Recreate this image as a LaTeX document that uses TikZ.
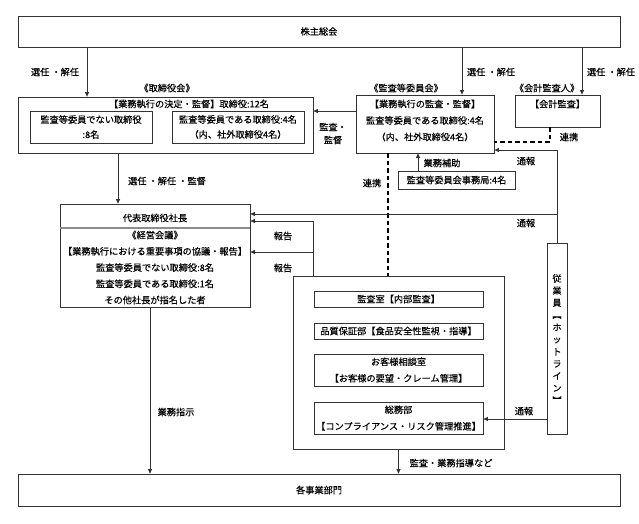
\documentclass[tikz,border=0pt]{standalone}
\usepackage{fontspec}
\setmainfont{Noto Sans CJK JP}[FakeBold=0.35]
\usetikzlibrary{arrows.meta}
\begin{document}
\begin{tikzpicture}[x=1pt,y=-1pt,
  every node/.style={font=\fontsize{9.2}{15}\selectfont, inner sep=0pt, text=black},
  box/.style={draw=black!80, line width=0.75pt, rectangle},
  ln/.style={draw=black!80, line width=0.75pt},
  arr/.style={ln, -{Triangle[length=4.5pt,width=4pt]}},
  dsh/.style={draw=black, line width=1.2pt, dash pattern=on 4.5pt off 3pt},
  lbl/.style={align=center, font=\fontsize{9.2}{13}\selectfont}]
\useasboundingbox (0,0) rectangle (639,523);

% top
\node[box, minimum width=602pt, minimum height=31pt] (soukai) at (319,31.5) {株主総会};

% board
\node[box, minimum width=295pt, minimum height=56pt] (torishimari) at (165.5,125) {};
\node (tlab) at (167,88) {《取締役会》};
\node (ttitle) at (189,104) {【業務執行の決定・監督】取締役:12名};
\node[box, minimum width=122pt, minimum height=32pt, align=center] (tleft) at (91,127) {監査等委員でない取締役\\:8名};
\node[box, minimum width=132pt, minimum height=32pt, align=center] (tright) at (238,127) {監査等委員である取締役:4名\\（内、社外取締役4名）};

% audit committee
\node[box, minimum width=138pt, minimum height=58pt] (kansa) at (425,124) {};
\node (klab) at (406,88) {《監査等委員会》};
\node[align=center, font=\fontsize{9.2}{16.5}\selectfont] (ktext) at (425,120.5) {【業務執行の監査・監督】\\監査等委員である取締役:4名\\（内、社外取締役4名）};

% accounting auditor
\node[box, minimum width=85pt, minimum height=32pt] (kaikei) at (557.5,111) {};
\node (kalab) at (547,88) {《会計監査人》};
\node (katext) at (557.5,104) {【会計監査】};

% secretariat
\node[box, minimum width=117pt, minimum height=18pt] (jimu) at (456.5,180) {監査等委員会事務局:4名};

% president
\node[box, minimum width=190pt, minimum height=103pt] (shacho) at (155,255.5) {};
\node (stitle) at (155,218) {代表取締役社長};
\node[align=center, font=\fontsize{9.2}{16.25}\selectfont] (stext) at (155,267.5) {《経営会議》\\【業務執行における重要事項の協議・報告】\\監査等委員でない取締役:8名\\監査等委員である取締役:1名\\その他社長が指名した者};
\coordinate (divy) at (0,228);
\draw[black!45, line width=1.6pt] (shacho.west |- divy) -- (shacho.east |- divy);

% internal group
\node[box, minimum width=211pt, minimum height=173pt] (group) at (398.5,362.5) {};
\node[box, minimum width=169pt, minimum height=16pt] (naibu) at (398.5,299) {監査室【内部監査】};
\node[box, minimum width=169pt, minimum height=16pt] (hinshitsu) at (398.5,331) {品質保証部【食品安全性監視・指導】};
\node[box, minimum width=169pt, minimum height=32pt, align=center, font=\fontsize{9.2}{16.5}\selectfont] (okyaku) at (398.5,370) {お客様相談室\\【お客様の要望・クレーム管理】};
\node[box, minimum width=169pt, minimum height=32pt, align=center, font=\fontsize{9.2}{16.5}\selectfont] (somu) at (398.5,418) {総務部\\【コンプライアンス・リスク管理推進】};

% employees
\node[box, minimum width=20pt, minimum height=191pt] (jugyo) at (557,338.5) {};
\node[align=center, font=\fontsize{9}{12.2}\selectfont] (jtext) at (557,339) {従\\業\\員\\︻\\ホ\\ッ\\ト\\ラ\\イ\\ン\\︼};

% bottom
\node[box, minimum width=602pt, minimum height=32pt] (jigyo) at (319,490) {各事業部門};

% x positions
\coordinate (x87) at (87,0);
\coordinate (x462) at (462,0);
\coordinate (x582) at (582,0);
\coordinate (x118) at (118,0);
\coordinate (x418) at (418,0);
\coordinate (x550) at (550,0);
\coordinate (x388) at (388,0);
\coordinate (x398) at (398.5,0);
\coordinate (x150) at (150,0);
\coordinate (y111) at (0,111);
\coordinate (y142) at (0,142);
\coordinate (y150) at (0,150);
\coordinate (y419) at (0,419);
\coordinate (tsB) at (557,214);
\coordinate (hkTop) at (313,221);
\coordinate (hkMid) at (313,252);

% connectors
\draw[arr] (soukai.south -| x87) -- (torishimari.north -| x87);
\draw[arr] (soukai.south -| x462) -- (kansa.north -| x462);
\draw[arr] (soukai.south -| x582) -- (kaikei.north -| x582);
\draw[arr] (torishimari.south -| x118) -- (shacho.north -| x118);
\draw[arr] (kansa.west |- y111) -- (torishimari.east |- y111);
\draw[arr] (jimu.north -| x418) -- (kansa.south -| x418);
\draw[dsh] (kaikei.south -| x550) |- (kansa.east |- y142);
\draw[dsh] (kansa.south -| x388) -- (group.north -| x388);
\draw[arr] (jugyo.north) |- (kansa.east |- y150);
\draw[arr] (tsB) -- (shacho.east |- tsB);
\draw[arr] (group.north -| hkTop) |- (shacho.east |- hkTop);
\draw[arr] (hkMid) -- (shacho.east |- hkMid);
\draw[arr] (jugyo.west |- y419) -- (somu.east |- y419);
\draw[arr] (group.south -| x398) -- (jigyo.north -| x398);
\draw[arr] (shacho.south -| x150) -- (jigyo.north -| x150);

% labels
\node[lbl] (l1) at (55,72) {選任 ・解任};
\node[lbl] (l2) at (491,72) {選任 ・解任};
\node[lbl] (l3) at (611,72) {選任 ・解任};
\node[lbl] (l4) at (167,181) {選任 ・解任 ・監督};
\node[lbl] (l5) at (333,133.5) {監査・\\監督};
\node[lbl] (l6) at (442,163) {業務補助};
\node[lbl] (l7) at (526,161) {通報};
\node[lbl] (l8) at (569,137) {連携};
\node[lbl] (l9) at (372,183) {連携};
\node[lbl] (l10) at (526,223) {通報};
\node[lbl] (l11) at (283,236) {報告};
\node[lbl] (l12) at (283,268) {報告};
\node[lbl] (l13) at (524,411) {通報};
\node[lbl] (l14) at (176,412) {業務指示};
\node[lbl] (l15) at (451,463) {監査・業務指導など};
\end{tikzpicture}
\end{document}
